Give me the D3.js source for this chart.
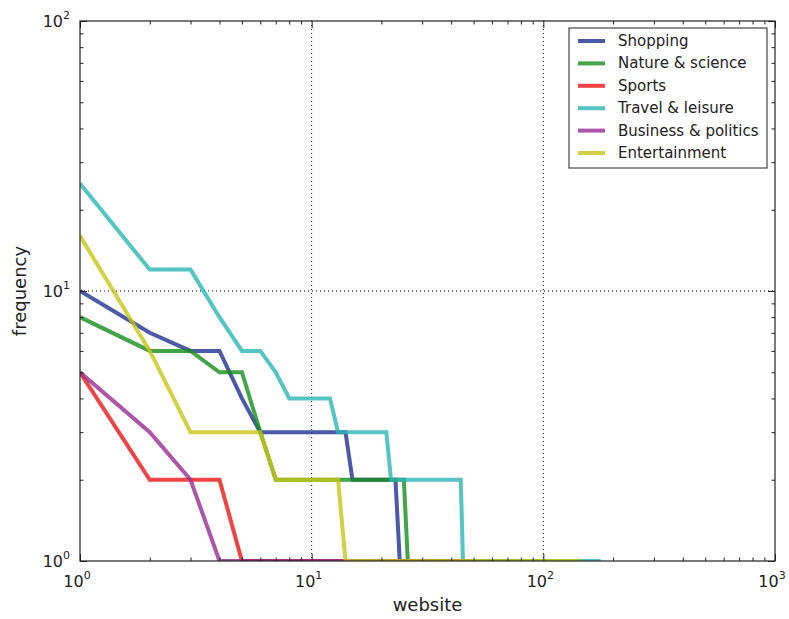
<!DOCTYPE html>
<html>
<head>
<meta charset="utf-8">
<script src="https://cdn.jsdelivr.net/npm/d3@7"></script>
<style>
  body { margin: 0; background: #fff; }
  text { font-family: "DejaVu Sans", sans-serif; fill: #222; }
</style>
</head>
<body>
<div id="chart"></div>
<script>
// Data: rank of website (x) vs frequency (y), vertices
var seriesNames = ["Shopping", "Nature & science", "Sports", "Travel & leisure", "Business & politics", "Entertainment"];
var seriesColors = ["#1d3192", "#158d1a", "#ea1515", "#2bb5b5", "#992b92", "#c9c414"];

var shoppingX = [1, 2, 3, 4, 5, 6, 14, 15, 23, 24, 80];
var shoppingY = [10, 7, 6, 6, 4, 3, 3, 2, 2, 1, 1];
var natureX = [1, 2, 3, 4, 5, 6, 7, 25, 26, 100];
var natureY = [8, 6, 6, 5, 5, 3, 2, 2, 1, 1];
var sportsX = [1, 2, 4, 5, 48];
var sportsY = [5, 2, 2, 1, 1];
var travelX = [1, 2, 3, 4, 5, 6, 7, 8, 12, 13, 21, 22, 44, 45, 177];
var travelY = [25, 12, 12, 8, 6, 6, 5, 4, 4, 3, 3, 2, 2, 1, 1];
var businessX = [1, 2, 3, 4, 48];
var businessY = [5, 3, 2, 1, 1];
var entertainmentX = [1, 2, 3, 6, 7, 13, 14, 145];
var entertainmentY = [16, 6, 3, 3, 2, 2, 1, 1];

var xTicks = [1, 10, 100, 1000];
var yTicks = [1, 10, 100];

var allX = [shoppingX, natureX, sportsX, travelX, businessX, entertainmentX];
var allY = [shoppingY, natureY, sportsY, travelY, businessY, entertainmentY];

// Size of the svg
var svgWidth = 789;
var svgHeight = 619;

var margin = { top: 21, right: 14, bottom: 58, left: 80 };
var width = svgWidth - margin.left - margin.right;
var height = svgHeight - margin.top - margin.bottom;

var svg = d3.select("#chart")
    .append("svg")
    .attr("width", svgWidth)
    .attr("height", svgHeight);

var chartGroup = svg.append("g")
    .attr("transform", `translate(${margin.left}, ${margin.top})`);

// Scales
var xScale = d3.scaleLog().domain([1, 1000]).range([0, width]);
var yScale = d3.scaleLog().domain([1, 100]).range([height, 0]);

// Minor ticks
var xMinor = [], yMinor = [];
[1, 10, 100].forEach(d => { for (var k = 2; k < 10; k++) xMinor.push(d * k); });
[1, 10].forEach(d => { for (var k = 2; k < 10; k++) yMinor.push(d * k); });

// Grid lines (dotted)
var grid = chartGroup.append("g");
xTicks.slice(1, -1).forEach(t => {
    grid.append("line")
        .attr("x1", xScale(t)).attr("x2", xScale(t))
        .attr("y1", 0).attr("y2", height)
        .attr("stroke", "#000").attr("stroke-width", 1)
        .attr("stroke-dasharray", "1,3");
});
yTicks.slice(1, -1).forEach(t => {
    grid.append("line")
        .attr("x1", 0).attr("x2", width)
        .attr("y1", yScale(t)).attr("y2", yScale(t))
        .attr("stroke", "#000").attr("stroke-width", 1)
        .attr("stroke-dasharray", "1,3");
});

// Clip
chartGroup.append("clipPath").attr("id", "plotClip")
    .append("rect").attr("width", width).attr("height", height);

var line = d3.line()
    .x(d => xScale(d[0]))
    .y(d => yScale(d[1]));

var linesGroup = chartGroup.append("g").attr("clip-path", "url(#plotClip)");
seriesNames.forEach((name, i) => {
    var pts = allX[i].map((x, j) => [x, allY[i][j]]);
    linesGroup.append("path")
        .datum(pts)
        .attr("d", line)
        .attr("fill", "none")
        .attr("stroke", seriesColors[i])
        .attr("stroke-opacity", 0.8)
        .attr("stroke-width", 4)
        .attr("stroke-linejoin", "miter");
});

// Axes (ticks inside, on all four sides)
function tickAxis(axis, vals, size) {
    return axis.tickValues(vals).tickSize(size).tickFormat("");
}
var axisColor = "#222";

chartGroup.append("g").attr("transform", `translate(0, ${height})`)
    .call(tickAxis(d3.axisTop(xScale), xTicks, 7));
chartGroup.append("g").attr("transform", `translate(0, ${height})`)
    .call(tickAxis(d3.axisTop(xScale), xMinor, 3.5));
chartGroup.append("g").call(tickAxis(d3.axisBottom(xScale), xTicks, 7));
chartGroup.append("g").call(tickAxis(d3.axisBottom(xScale), xMinor, 3.5));
chartGroup.append("g").call(tickAxis(d3.axisRight(yScale), yTicks, 7));
chartGroup.append("g").call(tickAxis(d3.axisRight(yScale), yMinor, 3.5));
chartGroup.append("g").attr("transform", `translate(${width}, 0)`)
    .call(tickAxis(d3.axisLeft(yScale), yTicks, 7));
chartGroup.append("g").attr("transform", `translate(${width}, 0)`)
    .call(tickAxis(d3.axisLeft(yScale), yMinor, 3.5));

chartGroup.selectAll(".domain").remove();
chartGroup.selectAll(".tick line").attr("stroke", axisColor).attr("stroke-width", 1);

// Frame
chartGroup.append("rect")
    .attr("width", width).attr("height", height)
    .attr("fill", "none").attr("stroke", axisColor).attr("stroke-width", 1.2);

// Tick labels 10^n
function powLabel(g, x, y, exp, anchor) {
    var t = g.append("text")
        .attr("x", x).attr("y", y)
        .attr("text-anchor", anchor)
        .attr("font-size", "16px");
    t.append("tspan").text("10");
    t.append("tspan").attr("dy", -8).attr("font-size", "11px").text(exp);
}
xTicks.forEach(t => {
    powLabel(chartGroup, xScale(t) - 3, height + 26, Math.round(Math.log10(t)), "middle");
});
yTicks.forEach(t => {
    powLabel(chartGroup, -10, yScale(t) + 6, Math.round(Math.log10(t)), "end");
});

// Axis labels
chartGroup.append("text")
    .attr("x", width / 2).attr("y", height + 50)
    .attr("text-anchor", "middle")
    .attr("font-size", "18px")
    .text("website");

chartGroup.append("text")
    .attr("transform", `translate(${-54}, ${height / 2}) rotate(-90)`)
    .attr("text-anchor", "middle")
    .attr("font-size", "18px")
    .text("frequency");

// Legend
var legend = chartGroup.append("g")
    .attr("transform", `translate(${569 - margin.left}, ${28 - margin.top})`);
legend.append("rect")
    .attr("width", 198).attr("height", 140)
    .attr("fill", "#fff").attr("stroke", axisColor).attr("stroke-width", 1);
seriesNames.forEach((name, i) => {
    var yy = 13 + i * 22.4;
    legend.append("line")
        .attr("x1", 9).attr("x2", 36)
        .attr("y1", yy).attr("y2", yy)
        .attr("stroke", seriesColors[i])
        .attr("stroke-opacity", 0.8)
        .attr("stroke-width", 4);
    legend.append("text")
        .attr("x", 49).attr("y", yy + 5)
        .attr("font-size", "15px")
        .text(name);
});
</script>
</body>
</html>
